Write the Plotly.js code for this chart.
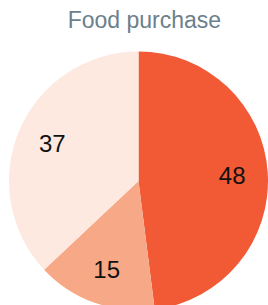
<!DOCTYPE html>
<html>
<head>
<meta charset="utf-8">
<script src="https://cdn.plot.ly/plotly-3.0.1.min.js"></script>
<style>
html,body{margin:0;padding:0;overflow:hidden;background:#fff;}
#chart{width:268px;height:312px;}
</style>
</head>
<body>
<div id="chart"></div>
<script>
const categories = ["A", "B", "C"];
const values = [48, 15, 37];
const colors = ["#f15a35", "#f7a886", "#fde9e0"];
const chartTitle = "Food purchase";

const common = {
  type: "pie",
  labels: categories,
  values: values,
  sort: false,
  direction: "clockwise",
  rotation: 0,
  hoverinfo: "none"
};

Plotly.newPlot("chart", [
  Object.assign({}, common, {
    marker: {colors: colors, line: {width: 0}},
    textinfo: "none"
  }),
  Object.assign({}, common, {
    hole: 0.45,
    marker: {colors: ["rgba(0,0,0,0)", "rgba(0,0,0,0)", "rgba(0,0,0,0)"], line: {width: 0}},
    textinfo: "value",
    textposition: "inside",
    insidetextorientation: "horizontal",
    insidetextfont: {family: "Liberation Sans, Arial, sans-serif", size: 24, color: "#111"}
  })
], {
  width: 268,
  height: 312,
  margin: {l: 9, r: 0, t: 51, b: 1},
  showlegend: false,
  paper_bgcolor: "#fff",
  title: {
    text: chartTitle,
    font: {family: "Liberation Sans, Arial, sans-serif", size: 23, color: "#6c7f8d"},
    x: 0.539, xanchor: "center", xref: "container",
    y: 1 - 20/312, yanchor: "middle", yref: "container"
  }
}, {displayModeBar: false, staticPlot: true});
</script>
</body>
</html>
